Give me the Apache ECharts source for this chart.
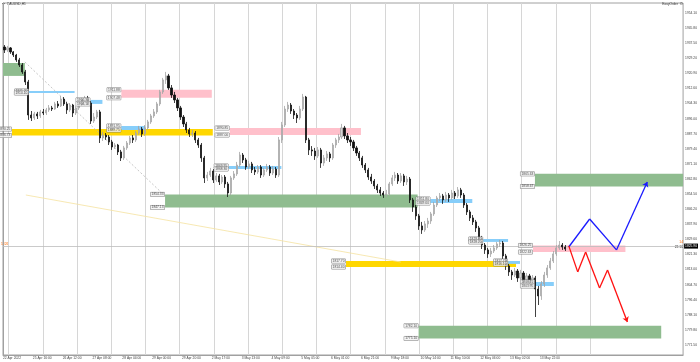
<!DOCTYPE html>
<html><head><meta charset="utf-8">
<script src="https://cdn.jsdelivr.net/npm/echarts@6/dist/echarts.min.js"></script>
<style>html,body{margin:0;padding:0;background:#fff}#c{width:700px;height:362px}</style>
</head><body><div id="c"></div>
<script>
// ---- data (2-hour slots, XAUUSD) ----
const timeLabels = ["22 Apr 2022","25 Apr 16:00","26 Apr 12:00","27 Apr 08:00","28 Apr 04:00","29 Apr 00:00","29 Apr 20:00","2 May 17:00","3 May 13:00","4 May 09:00","5 May 05:00","6 May 01:00","6 May 21:00","9 May 18:00","10 May 14:00","11 May 10:00","12 May 06:00","13 May 02:00","13 May 22:00"];
const priceTicks = [1771.5,1779.8,1788.1,1796.4,1804.7,1813.0,1821.3,1829.6,1837.9,1846.2,1854.5,1862.8,1871.1,1879.4,1887.7,1896.0,1904.3,1912.6,1920.9,1929.2,1937.5,1945.8,1954.1];
// [open, close, low, high]
const ohlc = [
[1935.4,1933.8,1932.1,1936.5],[1933.8,1934.9,1932.7,1936.0],[1934.9,1932.7,1931.6,1935.4],[1932.7,1931.0,1929.9,1933.2],
[1931.0,1928.3,1927.2,1931.6],[1928.3,1925.5,1924.4,1929.4],[1925.5,1921.7,1920.6,1926.6],[1921.7,1916.2,1914.5,1922.8],
[1916.2,1898.0,1895.3,1917.3],[1898.0,1896.4,1894.7,1900.2],[1896.4,1898.6,1895.3,1899.7],[1898.6,1897.5,1895.8,1899.7],
[1897.5,1899.7,1896.4,1900.8],[1899.7,1899.1,1898.0,1901.3],[1899.1,1900.8,1898.0,1901.9],[1900.8,1901.9,1899.7,1903.5],
[1901.9,1901.3,1900.2,1903.0],[1901.3,1904.1,1900.8,1905.2],[1904.1,1903.0,1901.9,1905.7],[1903.0,1906.8,1902.4,1908.5],
[1906.8,1904.1,1903.0,1907.9],[1904.1,1900.8,1898.6,1905.2],[1900.8,1903.5,1899.7,1904.6],[1903.5,1899.1,1896.9,1904.1],
[1899.1,1901.9,1898.0,1903.0],[1901.9,1906.3,1900.8,1907.4],[1906.3,1904.1,1903.0,1907.4],[1904.1,1907.4,1903.0,1908.5],
[1907.4,1904.6,1903.5,1908.5],[1904.6,1894.7,1893.1,1905.7],[1894.7,1896.9,1893.6,1899.1],[1896.9,1899.7,1895.8,1900.8],
[1899.7,1885.4,1882.6,1900.8],[1885.4,1887.0,1883.7,1888.7],[1887.0,1885.9,1884.3,1888.1],[1885.9,1883.2,1881.5,1887.0],
[1883.2,1880.4,1878.8,1884.3],[1880.4,1881.5,1879.3,1882.6],[1881.5,1877.7,1876.0,1882.1],[1877.7,1874.4,1872.7,1878.8],
[1874.4,1879.9,1873.3,1881.0],[1879.9,1882.6,1878.8,1883.7],[1882.6,1885.4,1881.5,1886.5],[1885.4,1884.3,1882.6,1887.0],
[1884.3,1888.1,1883.2,1889.2],[1888.1,1890.3,1887.0,1892.0],[1890.3,1887.6,1885.9,1891.4],[1887.6,1890.9,1886.5,1892.5],
[1890.9,1894.2,1889.8,1895.3],[1894.2,1897.5,1893.1,1898.6],[1897.5,1899.7,1896.4,1901.3],[1899.7,1904.1,1898.6,1905.2],
[1904.1,1910.7,1903.0,1911.8],[1910.7,1917.3,1909.6,1918.4],[1917.3,1919.5,1915.1,1921.7],[1919.5,1912.9,1911.8,1920.6],
[1912.9,1909.0,1907.4,1914.5],[1909.0,1906.3,1904.6,1910.7],[1906.3,1901.9,1900.2,1907.4],[1901.9,1896.9,1895.3,1903.0],
[1896.9,1893.1,1891.4,1898.0],[1893.1,1889.8,1888.1,1894.2],[1889.8,1887.6,1885.9,1890.9],[1887.6,1888.1,1885.9,1889.8],
[1888.1,1884.3,1882.6,1889.2],[1884.3,1881.5,1879.9,1885.4],[1881.5,1874.4,1872.2,1882.6],[1874.4,1863.4,1860.6,1875.5],
[1863.4,1865.0,1861.7,1866.7],[1865.0,1867.2,1863.9,1868.9],[1867.2,1862.3,1860.6,1868.3],[1862.3,1864.5,1861.2,1866.1],
[1864.5,1861.2,1859.5,1865.6],[1861.2,1863.9,1860.1,1865.0],[1863.9,1860.1,1857.9,1865.0],[1860.1,1855.1,1852.9,1861.2],
[1855.1,1863.4,1854.0,1864.5],[1863.4,1865.6,1862.3,1867.2],[1865.6,1870.5,1864.5,1872.2],[1870.5,1876.0,1869.4,1877.7],
[1876.0,1873.3,1871.6,1877.1],[1873.3,1869.4,1867.8,1874.4],[1869.4,1871.1,1868.3,1872.7],[1871.1,1867.8,1866.1,1872.2],
[1867.8,1866.7,1865.0,1869.4],[1866.7,1869.4,1865.6,1870.5],[1869.4,1865.0,1863.4,1870.5],[1865.0,1867.8,1863.9,1868.9],
[1867.8,1869.4,1866.7,1871.1],[1869.4,1866.1,1864.5,1870.5],[1866.1,1868.3,1865.0,1870.0],[1868.3,1865.0,1863.4,1869.4],
[1865.0,1884.3,1863.9,1885.9],[1884.3,1892.5,1882.6,1894.2],[1892.5,1901.3,1891.4,1903.0],[1901.3,1903.5,1899.7,1905.2],
[1903.5,1900.2,1898.6,1904.6],[1900.2,1898.0,1895.8,1901.3],[1898.0,1896.4,1893.6,1899.1],[1896.4,1901.3,1895.3,1903.0],
[1901.3,1907.9,1900.2,1909.6],[1907.9,1884.3,1882.6,1908.5],[1884.3,1878.8,1876.0,1885.4],[1878.8,1878.2,1875.5,1880.9],
[1878.2,1875.5,1873.3,1879.9],[1875.5,1878.8,1874.4,1880.4],[1878.8,1871.6,1868.9,1879.9],[1871.6,1874.4,1870.0,1876.0],
[1874.4,1876.6,1872.7,1878.2],[1876.6,1874.4,1872.2,1877.7],[1874.4,1881.5,1873.3,1882.6],[1881.5,1884.3,1879.9,1885.4],
[1884.3,1885.9,1882.6,1887.6],[1885.9,1890.9,1884.8,1893.1],[1890.9,1886.5,1884.8,1892.0],[1886.5,1884.3,1882.6,1888.1],
[1884.3,1883.2,1881.0,1885.9],[1883.2,1879.9,1878.2,1884.3],[1879.9,1877.1,1875.5,1881.0],[1877.1,1874.4,1872.7,1878.2],
[1874.4,1870.5,1868.9,1875.5],[1870.5,1867.8,1866.1,1871.6],[1867.8,1863.9,1862.3,1868.9],[1863.9,1861.7,1860.1,1865.6],
[1861.7,1859.0,1857.3,1862.8],[1859.0,1856.8,1855.1,1860.1],[1856.8,1855.1,1853.5,1858.4],[1855.1,1854.0,1852.4,1856.2],
[1854.0,1854.6,1852.9,1856.8],[1854.6,1860.1,1853.5,1861.2],[1860.1,1863.4,1859.0,1865.0],[1863.4,1865.0,1861.7,1866.7],
[1865.0,1861.7,1860.1,1866.1],[1861.7,1864.5,1860.6,1866.1],[1864.5,1861.2,1859.0,1865.6],[1861.2,1862.8,1859.5,1864.5],
[1862.8,1851.3,1849.6,1863.9],[1851.3,1847.4,1844.7,1852.4],[1847.4,1842.5,1840.3,1848.5],[1842.5,1837.0,1834.8,1843.6],
[1837.0,1834.8,1832.6,1839.2],[1834.8,1838.1,1833.7,1839.7],[1838.1,1839.7,1835.9,1841.4],[1839.7,1843.6,1838.1,1844.7],
[1843.6,1848.5,1842.5,1850.2],[1848.5,1852.4,1847.4,1853.5],[1852.4,1853.5,1850.7,1855.1],[1853.5,1851.3,1849.1,1854.6],
[1851.3,1854.0,1850.2,1855.7],[1854.0,1852.4,1850.2,1855.1],[1852.4,1855.1,1851.3,1856.8],[1855.1,1853.5,1851.8,1856.2],
[1853.5,1856.8,1852.4,1858.4],[1856.8,1854.0,1852.4,1857.9],[1854.0,1848.5,1846.9,1855.1],[1848.5,1844.7,1843.0,1849.6],
[1844.7,1841.4,1839.7,1845.8],[1841.4,1839.2,1837.5,1843.0],[1839.2,1835.9,1833.7,1840.3],[1835.9,1830.4,1828.2,1837.0],
[1830.4,1826.5,1824.3,1831.5],[1826.5,1823.8,1821.6,1827.6],[1823.8,1821.6,1819.4,1824.9],[1821.6,1823.2,1819.9,1824.9],
[1823.2,1824.9,1822.1,1826.5],[1824.9,1827.1,1823.8,1828.2],[1827.1,1827.6,1825.4,1829.3],[1827.6,1820.5,1818.8,1828.7],
[1820.5,1815.0,1812.8,1821.6],[1815.0,1811.7,1809.5,1816.1],[1811.7,1810.0,1807.3,1812.8],[1810.0,1812.2,1808.9,1813.9],
[1812.2,1808.4,1806.2,1813.3],[1808.4,1811.1,1807.3,1812.8],[1811.1,1807.3,1805.1,1812.2],[1807.3,1809.5,1805.6,1811.1],
[1809.5,1806.2,1804.0,1810.6],[1806.2,1808.4,1804.5,1810.0],[1808.4,1802.3,1786.9,1809.5],[1802.3,1798.5,1793.5,1804.0],
[1798.5,1805.1,1796.3,1806.7],[1805.1,1810.0,1803.4,1811.7],[1810.0,1813.9,1808.4,1815.5],[1813.9,1817.7,1812.8,1819.4],
[1817.7,1821.6,1816.6,1823.2],[1821.6,1824.9,1820.5,1826.5],[1824.9,1826.5,1823.8,1828.7],[1826.5,1825.4,1823.8,1827.6],
[1825.4,1824.3,1823.2,1826.5]
];
const currentPrice = 1825.9;
// zones: [fromSlot, toSlot, top, bottom, kind, labelled]
const zones = [
[0,7.33,1926.6,1919.5,'green',false],
[8.67,24,1911.2,1910.1,'blue',true],
[29.33,33.33,1906.3,1904.1,'blue',true],
[39.67,70,1911.88,1907.48,'pink',true],
[3,70.33,1890.25,1886.73,'yellow',true],
[39.67,47.67,1891.95,1889.75,'blue',true],
[76,120,1890.85,1887.0,'pink',true],
[75.67,93.33,1869.95,1868.3,'blue',true],
[54.33,139,1854.33,1847.13,'green',true],
[143.33,157.33,1851.8,1849.6,'blue',true],
[115,172,1817.7,1814.4,'yellow',true],
[161,169.33,1829.8,1828.2,'blue',true],
[169.33,173.33,1817.7,1816.1,'blue',true],
[178.33,184.67,1806.15,1803.95,'blue',true],
[177.67,208.67,1826.25,1822.63,'pink',true],
[178.33,228,1865.63,1858.67,'green',true],
[139.33,220.67,1782.10,1775.10,'green',true]
];
const blueProjection = [[189.67,1825.4],[196.67,1840.8],[205.67,1823.8],[216.0,1861.2]];
const redProjection = [[189.67,1826.0],[192.67,1811.7],[195.33,1822.7],[200.0,1802.9],[202.67,1812.8],[209.33,1784.2]];
const greyTrend = [[7.33,1927.15],[54.33,1853.45]];
const yellowTrend = [[7.67,1854.0],[133.33,1817.15]];

// ---- build ----
const zoneColors = {green:'#8fbc8f', blue:'#87cefa', pink:'#ffc0cb', yellow:'#ffd700'};
const candleData = ohlc.map((c, i) => [i + 0.5, c[0], c[1], c[2], c[3]]);
const labelSlots = timeLabels.map((_, k) => k * 10);
const gridSlots = Array.from({length: 18}, (_, j) => 1.87 + j * 11.467);
const areaData = zones.map(z => [
  {xAxis: z[0], yAxis: z[2], itemStyle: {color: zoneColors[z[4]], opacity: 1}},
  {xAxis: z[1], yAxis: z[3]}
]);
const zoneLabelData = [];
zones.filter(z => z[5]).forEach(z => {
  zoneLabelData.push({value: [z[0], z[2]], label: {formatter: z[2].toFixed(2)}});
  zoneLabelData.push({value: [z[0], z[3]], label: {formatter: z[3].toFixed(2)}});
});
function segs(pts) { const s = []; for (let i = 0; i < pts.length - 1; i++) s.push({coords: [pts[i], pts[i + 1]]}); return s; }
const blueSegs = segs(blueProjection), redSegs = segs(redProjection);
const FONT = 'Liberation Sans';
const tiny = 3.3;

const chart = echarts.init(document.getElementById('c'), null, {renderer: 'canvas'});
chart.setOption({
  animation: false,
  backgroundColor: '#ffffff',
  grid: {left: 0, right: 16, top: 3, bottom: 7, show: true, borderColor: '#a0a0a0', borderWidth: 1},
  xAxis: {
    type: 'value', min: 0, max: 228,
    axisLine: {show: true, lineStyle: {color: '#a0a0a0', width: 1}},
    axisTick: {show: false, customValues: gridSlots},
    splitLine: {show: true, lineStyle: {color: '#d6d6d6', width: 1}},
    axisLabel: {customValues: labelSlots, formatter: v => timeLabels[Math.round(v / 10)] || '',
      fontSize: tiny, color: '#444', fontFamily: FONT, align: 'left', margin: 2}
  },
  yAxis: {
    type: 'value', position: 'right', min: 1766.0, max: 1959.6, scale: true,
    axisLine: {show: true, lineStyle: {color: '#a0a0a0', width: 1}},
    axisTick: {show: false},
    splitLine: {show: false},
    axisLabel: {customValues: priceTicks, formatter: v => v.toFixed(2), fontSize: tiny, color: '#444', fontFamily: FONT, margin: 2}
  },
  series: [
    {type: 'line', data: [], z: 1, silent: true,
     markArea: {silent: true, data: areaData, label: {show: false}}},
    {type: 'line', z: 2, silent: true, symbol: 'none', data: greyTrend,
     lineStyle: {color: '#b8b8b8', width: 0.8, type: [2, 2]}},
    {type: 'line', z: 2, silent: true, symbol: 'none', data: yellowTrend,
     lineStyle: {color: '#f5e2a0', width: 0.8}},
    {type: 'candlestick', z: 5, data: candleData, barWidth: 1.6,
     itemStyle: {color: '#d4d4d4', borderColor: '#a4a4a4', color0: '#111111', borderColor0: '#111111', borderWidth: 0.8},
     markLine: {silent: true, symbol: 'none', data: [{yAxis: currentPrice}],
       lineStyle: {color: '#bdbdbd', width: 0.8, type: 'solid'},
       label: {show: true, position: 'end', distance: 1, formatter: () => currentPrice.toFixed(2),
         backgroundColor: '#000', color: '#fff', fontSize: tiny, fontFamily: FONT, padding: [1, 1]}}},
    {type: 'lines', coordinateSystem: 'cartesian2d', z: 6, silent: true, symbol: ['none', 'none'],
     lineStyle: {color: '#1a1aff', width: 1.3, opacity: 1}, data: blueSegs.slice(0, -1)},
    {type: 'lines', coordinateSystem: 'cartesian2d', z: 6, silent: true, symbol: ['none', 'arrow'], symbolSize: 5,
     lineStyle: {color: '#1a1aff', width: 1.3, opacity: 1}, data: blueSegs.slice(-1)},
    {type: 'lines', coordinateSystem: 'cartesian2d', z: 6, silent: true, symbol: ['none', 'none'],
     lineStyle: {color: '#ff1010', width: 1.3, opacity: 1}, data: redSegs.slice(0, -1)},
    {type: 'lines', coordinateSystem: 'cartesian2d', z: 6, silent: true, symbol: ['none', 'arrow'], symbolSize: 5,
     lineStyle: {color: '#ff1010', width: 1.3, opacity: 1}, data: redSegs.slice(-1)},
    {type: 'scatter', z: 7, silent: true, symbol: 'circle', symbolSize: 0.1, itemStyle: {color: 'rgba(0,0,0,0)'},
     data: zoneLabelData,
     label: {show: true, position: 'left', distance: 0.5, fontSize: tiny, fontFamily: FONT, color: '#222',
       backgroundColor: '#f2f2f2', borderColor: '#777', borderWidth: 0.5, padding: [0.5, 1]},
     labelLayout: {hideOverlap: false}}
  ],
  graphic: [
    {type: 'polygon', shape: {points: [[2, 3], [5, 3], [3.5, 5]]}, style: {fill: '#555'}},
    {type: 'text', left: 7, top: 2.5, style: {text: 'XAUUSD,H1', fontSize: tiny, fill: '#333', fontFamily: FONT}},
    {type: 'text', right: 22, top: 3, style: {text: 'EasyOrder', fontSize: tiny, fill: '#333', fontFamily: FONT}},
    {type: 'text', right: 17, top: 2, style: {text: '⚙', fontSize: 4, fill: '#666', fontFamily: 'DejaVu Sans'}},
    {type: 'text', right: 17, top: 241, style: {text: '14', fontSize: tiny, fill: '#ff6a00', fontFamily: FONT}},
    {type: 'text', right: 17, top: 246, style: {text: '23:16', fontSize: tiny, fill: '#222', fontFamily: FONT}},
    {type: 'text', left: 1, top: 243, style: {text: '1826', fontSize: tiny, fill: '#ff6a00', fontFamily: FONT}}
  ]
});
</script></body></html>
